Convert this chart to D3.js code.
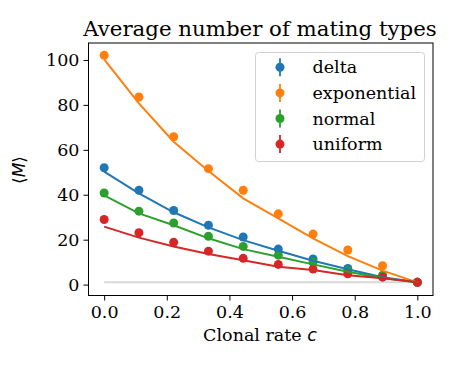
<!DOCTYPE html>
<html lang="en">
<head>
<meta charset="UTF-8">
<title>Average number of mating types</title>
<script src="https://d3js.org/d3.v7.min.js"></script>
<style>
  body { margin: 0; background: #fff; }
  svg { display: block; }
</style>
</head>
<body>
<div id="chart"></div>
<script>
// clonal rate values (x)
const clonalRate = [0, 0.111, 0.222, 0.333, 0.444, 0.556, 0.667, 0.778, 0.889, 1.0];

// simulated points
const deltaPts = [52.0, 42.0, 33.0, 26.4, 21.2, 15.8, 11.4, 7.2, 3.5, 1.0];
const expPts = [102.1, 83.5, 65.8, 51.6, 42.0, 31.5, 22.5, 15.4, 8.4, 1.0];
const normalPts = [40.8, 32.7, 27.4, 21.5, 17.0, 13.1, 9.9, 6.2, 4.2, 1.0];
const uniformPts = [29.0, 23.1, 18.8, 14.9, 11.7, 9.0, 6.9, 4.8, 3.3, 1.0];

// theory curves
const deltaLine = [50.3, 40.6, 32.2, 25.5, 19.8, 15.1, 10.6, 6.8, 3.3, 1.0];
const expLine = [100.3, 80.7, 63.6, 50.6, 38.4, 29.5, 20.6, 12.7, 6.2, 1.0];
const normalLine = [39.7, 31.7, 26.4, 20.6, 15.8, 12.4, 9.0, 5.7, 2.9, 1.0];
const uniformLine = [25.8, 20.9, 17.0, 13.6, 10.8, 7.9, 6.5, 4.2, 2.8, 1.0];

const seriesNames = ["delta", "exponential", "normal", "uniform"];
const colors = ["#1f77b4", "#ff7f0e", "#2ca02c", "#d62728"];
const baseline = 1;

const xTicks = [0, 0.2, 0.4, 0.6, 0.8, 1.0];
const yTicks = [0, 20, 40, 60, 80, 100];

const W = 457, H = 366;
const plot = { left: 88.5, right: 433, top: 43, bottom: 295.5 };

const svg = d3.select("#chart").append("svg")
  .attr("width", W).attr("height", H);

const x = d3.scaleLinear().domain([-0.05, 1.05]).range([plot.left, plot.right]);
const y = d3.scaleLinear().domain([-4.85, 107.55]).range([plot.bottom, plot.top]);

const serif = "'DejaVu Serif', serif";
const sans = "'DejaVu Sans', sans-serif";
const fs = 17.5;

const series = [
  { name: seriesNames[0], pts: deltaPts, line: deltaLine, color: colors[0] },
  { name: seriesNames[1], pts: expPts, line: expLine, color: colors[1] },
  { name: seriesNames[2], pts: normalPts, line: normalLine, color: colors[2] },
  { name: seriesNames[3], pts: uniformPts, line: uniformLine, color: colors[3] }
];

// light gray reference line
svg.append("line")
  .attr("x1", x(clonalRate[0])).attr("x2", x(clonalRate[clonalRate.length - 1]))
  .attr("y1", y(baseline)).attr("y2", y(baseline))
  .attr("stroke", "#d8d8d8").attr("stroke-width", 2);

const line = d3.line().x((d, i) => x(clonalRate[i])).y(d => y(d));

// points, then fitted curves
series.forEach(s => {
  svg.append("g").selectAll("circle")
    .data(s.pts)
    .join("circle")
    .attr("cx", (d, i) => x(clonalRate[i]))
    .attr("cy", d => y(d))
    .attr("r", 4.5)
    .attr("fill", s.color);
});
series.forEach(s => {
  svg.append("path")
    .datum(s.line)
    .attr("d", line)
    .attr("fill", "none")
    .attr("stroke", s.color)
    .attr("stroke-width", 2);
});

// frame
svg.append("rect")
  .attr("x", plot.left).attr("y", plot.top)
  .attr("width", plot.right - plot.left).attr("height", plot.bottom - plot.top)
  .attr("fill", "none").attr("stroke", "#000").attr("stroke-width", 1);

// x axis
svg.append("g")
  .attr("transform", `translate(0,${plot.bottom})`)
  .call(d3.axisBottom(x).tickValues(xTicks).tickSize(5).tickPadding(5.5).tickFormat(d3.format(".1f")))
  .call(g => g.select(".domain").remove())
  .call(g => g.selectAll("text").attr("font-family", serif).attr("font-size", fs).attr("fill", "#000"));

// y axis
svg.append("g")
  .attr("transform", `translate(${plot.left},0)`)
  .call(d3.axisLeft(y).tickValues(yTicks).tickSize(5).tickPadding(4))
  .call(g => g.select(".domain").remove())
  .call(g => g.selectAll("text").attr("font-family", serif).attr("font-size", fs).attr("fill", "#000"));

// title
svg.append("text")
  .attr("x", 260).attr("y", 36)
  .attr("text-anchor", "middle")
  .attr("font-family", serif).attr("font-size", 21.3)
  .text("Average number of mating types");

// x label
const xl = svg.append("text")
  .attr("x", 260).attr("y", 341)
  .attr("text-anchor", "middle")
  .attr("font-family", serif).attr("font-size", fs);
xl.append("tspan").text("Clonal rate ");
xl.append("tspan").attr("font-family", sans).attr("font-style", "italic").text("c");

// y label, centred on (30.5, 170)
const yl = svg.append("text")
  .attr("text-anchor", "middle")
  .attr("font-family", sans).attr("font-size", 17);
yl.append("tspan").text("\u27E8");
yl.append("tspan").attr("font-style", "italic").text("M");
yl.append("tspan").text("\u27E9");
const yb = yl.node().getBBox();
const cy0 = yb.y + yb.height / 2;
yl.attr("transform", `translate(${30.5 + cy0},170) rotate(-90)`);

// legend
const lg = svg.append("g");
lg.append("rect")
  .attr("x", 255.5).attr("y", 52.5).attr("width", 169).attr("height", 109)
  .attr("rx", 3)
  .attr("fill", "#fff").attr("fill-opacity", 0.8)
  .attr("stroke", "#d0d0d0").attr("stroke-width", 1);
series.forEach((s, i) => {
  const cy = 67.3 + i * 25.6;
  lg.append("line")
    .attr("x1", 280).attr("x2", 280).attr("y1", cy - 9).attr("y2", cy + 9)
    .attr("stroke", s.color).attr("stroke-width", 1.8);
  lg.append("circle").attr("cx", 280).attr("cy", cy).attr("r", 4.5).attr("fill", s.color);
  lg.append("text")
    .attr("x", 312.5).attr("y", cy).attr("dy", "0.35em")
    .attr("font-family", serif).attr("font-size", fs)
    .text(s.name);
});
</script>
</body>
</html>
